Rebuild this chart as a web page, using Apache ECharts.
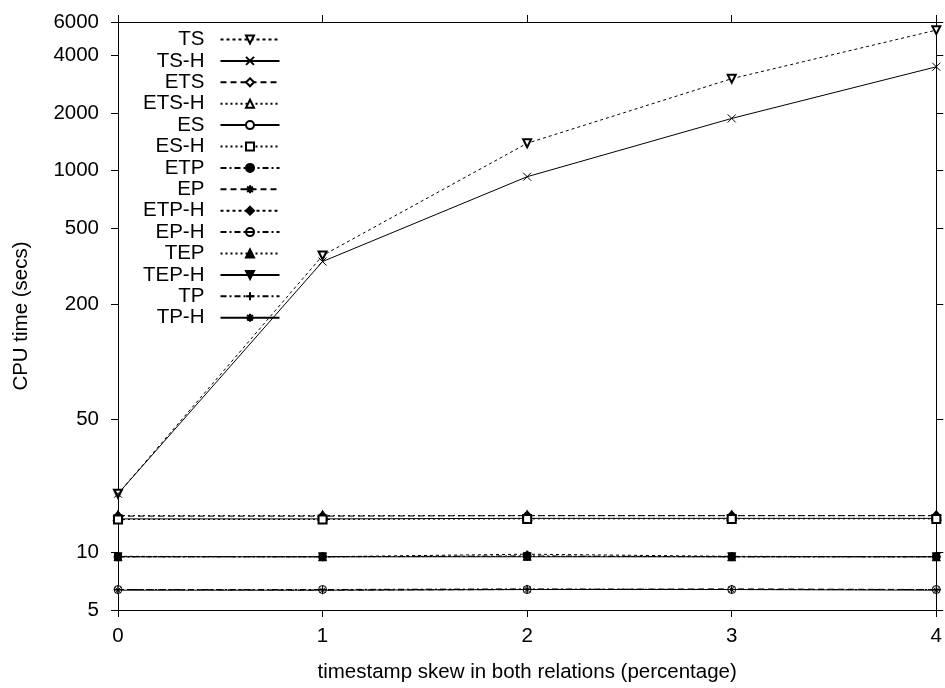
<!DOCTYPE html>
<html>
<head>
<meta charset="utf-8">
<script src="https://cdn.jsdelivr.net/npm/echarts@6/dist/echarts.min.js"></script>
<style>html,body{margin:0;padding:0;background:#fff}#c{width:945px;height:688px}</style>
</head>
<body>
<div id="c"></div>
<script>
// ---- data ----
const skew = [0, 1, 2, 3, 4];
const yTicks = [5, 10, 50, 200, 500, 1000, 2000, 4000, 6000];
const xTicks = [0, 1, 2, 3, 4];

const TS    = [20.3, 359, 1390, 3030, 5440];
const TS_H  = [20.3, 334, 929, 1876, 3497];
const ETS   = [15.5, 15.5, 15.6, 15.6, 15.6];
const ETS_H = [15.6, 15.6, 15.6, 15.6, 15.6];
const ES    = [15.0, 15.0, 15.1, 15.1, 15.1];
const ES_H  = [14.9, 14.9, 15.0, 15.0, 15.0];
const ETP   = [9.5, 9.5, 9.6, 9.5, 9.5];
const EP    = [6.4, 6.35, 6.4, 6.45, 6.4];
const ETP_H = [9.55, 9.5, 9.8, 9.55, 9.5];
const EP_H  = [6.4, 6.4, 6.4, 6.4, 6.4];
const TEP   = [9.5, 9.5, 9.55, 9.5, 9.5];
const TEP_H = [9.5, 9.5, 9.5, 9.5, 9.5];
const TP    = [6.4, 6.4, 6.45, 6.4, 6.4];
const TP_H  = [6.35, 6.35, 6.4, 6.4, 6.35];

const names = ['TS','TS-H','ETS','ETS-H','ES','ES-H','ETP','EP','ETP-H','EP-H','TEP','TEP-H','TP','TP-H'];
const values = [TS, TS_H, ETS, ETS_H, ES, ES_H, ETP, EP, ETP_H, EP_H, TEP, TEP_H, TP, TP_H];

// ---- styles ----
const CROSS = 'path://M0,0L10,10M10,0L0,10';
const STAR = 'path://M0,5L10,5M5,0L5,10M1.5,1.5L8.5,8.5M8.5,1.5L1.5,8.5';
const PLUS = 'path://M0,5L10,5M5,0L5,10';
const CIRCLE_BAR = 'path://M0,5A5,5 0 1 1 10,5A5,5 0 1 1 0,5ZM0,5L10,5';
const DOT = [3, 3], DOT2 = [2, 3], DASH = [6, 4], DASHDOT = [6, 3, 2, 3], SOLID = 'solid';

const styles = [
  {sym:'emptyTriangle', rot:180, dash:DOT, fill:'#000'},
  {sym:CROSS, dash:SOLID, fill:'none'},
  {sym:'emptyDiamond', dash:DASH, fill:'#000'},
  {sym:'emptyTriangle', dash:DOT2, fill:'#000'},
  {sym:'emptyCircle', dash:SOLID, fill:'#000'},
  {sym:'emptyRect', dash:DOT2, fill:'#000'},
  {sym:'circle', dash:DASHDOT, fill:'#000'},
  {sym:STAR, dash:DASH, fill:'none'},
  {sym:'diamond', dash:DOT, fill:'#000', size:7},
  {sym:CIRCLE_BAR, dash:DASHDOT, fill:'#fff'},
  {sym:'triangle', dash:DOT2, fill:'#000'},
  {sym:'triangle', rot:180, dash:SOLID, fill:'#000'},
  {sym:PLUS, dash:DASHDOT, fill:'none'},
  {sym:STAR, dash:SOLID, fill:'none'}
];

const series = names.map((n, i) => {
  const s = styles[i];
  return {
    name: n,
    type: 'line',
    xAxisIndex: 0,
    yAxisIndex: 0,
    data: skew.map((x, k) => [x, values[i][k]]),
    symbol: s.sym,
    symbolRotate: s.rot || 0,
    symbolSize: s.size || 8,
    showAllSymbol: true,
    lineStyle: {color: '#000', width: 1, type: s.dash},
    itemStyle: {color: s.fill, borderColor: '#000', borderWidth: 1},
    emphasis: {disabled: true},
    animation: false,
    z: 3
  };
});

const font = 'Liberation Sans';
const FS = 20.5;
const fmt = v => String(Math.round(v));
const axisCommonX = {
  type: 'value', min: 0, max: 4, interval: 1,
  axisLine: {show: true, onZero: false, lineStyle: {color: '#000', width: 1}},
  axisTick: {show: true, inside: false, length: 7, lineStyle: {color: '#000'}},
  splitLine: {show: false}
};
const axisCommonY = {
  type: 'log', min: 5, max: 6000,
  axisLine: {show: true, onZero: false, lineStyle: {color: '#000', width: 1}},
  axisTick: {show: true, inside: false, length: 7, customValues: yTicks, lineStyle: {color: '#000'}},
  splitLine: {show: false}
};

const chart = echarts.init(document.getElementById('c'), null, {renderer: 'canvas'});
chart.setOption({
  animation: false,
  backgroundColor: '#fff',
  textStyle: {fontFamily: font, color: '#000'},
  grid: {left: 118, right: 4, top: 22, bottom: 74, containLabel: false},
  legend: {
    data: names,
    orient: 'vertical',
    align: 'right',
    left: 143,
    top: 29,
    padding: 0,
    itemWidth: 59,
    itemHeight: 10,
    itemGap: 0.4,
    selectedMode: false,
    textStyle: {fontFamily: font, fontSize: FS, color: '#000', padding: [0, 11, 0, 0]}
  },
  xAxis: [
    Object.assign({}, axisCommonX, {
      position: 'bottom',
      axisLabel: {show: true, fontFamily: font, fontSize: FS, color: '#000', margin: 16, customValues: xTicks, formatter: fmt},
      name: 'timestamp skew in both relations (percentage)',
      nameLocation: 'middle', nameGap: 52,
      nameTextStyle: {fontFamily: font, fontSize: FS, color: '#000'}
    }),
    Object.assign({}, axisCommonX, {
      position: 'top',
      axisLabel: {show: false}
    })
  ],
  yAxis: [
    Object.assign({}, axisCommonY, {
      position: 'left',
      axisLabel: {show: true, fontFamily: font, fontSize: FS, color: '#000', margin: 19, customValues: yTicks, formatter: fmt},
      name: 'CPU time (secs)',
      nameLocation: 'middle', nameGap: 86, nameRotate: 90,
      nameTextStyle: {fontFamily: font, fontSize: FS, color: '#000'}
    }),
    Object.assign({}, axisCommonY, {
      position: 'right',
      axisLabel: {show: false}
    })
  ],
  series: series
});
</script>
</body>
</html>
